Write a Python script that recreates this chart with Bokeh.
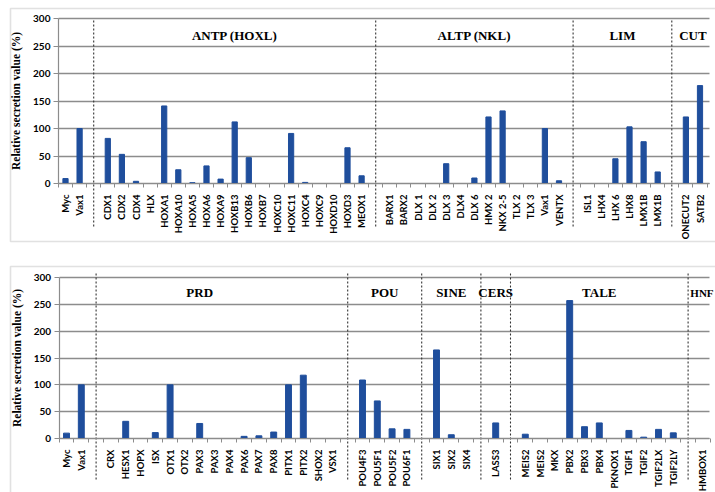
import math
from bokeh.plotting import figure
from bokeh.models import FixedTicker, BoxAnnotation, ColumnDataSource, Range1d
from bokeh.layouts import column
from bokeh.embed import file_html
from bokeh.resources import INLINE
from bokeh.core.properties import value

# ---------------- data ----------------
y_ticks = [0, 50, 100, 150, 200, 250, 300]
y_title = "Relative secretion value (%)"

# top panel
ctrl_genes = ["Myc", "Vax1"]
ctrl_top_vals = [9, 100]
antp_genes = ["CDX1", "CDX2", "CDX4", "HLX", "HOXA1", "HOXA10", "HOXA5", "HOXA6", "HOXA9",
              "HOXB13", "HOXB6", "HOXB7", "HOXC10", "HOXC11", "HOXC4", "HOXC9", "HOXD10",
              "HOXD3", "MEOX1"]
antp_vals = [82, 53, 4, 0, 141, 25, 1.5, 32, 8, 112, 47, 0, 0, 91, 2, 0, 0, 65, 14]
altp_genes = ["BARX1", "BARX2", "DLX 1", "DLX 2", "DLX 3", "DLX4", "DLX 6", "HMX 2", "NKX 2-5",
              "TLX 2", "TLX 3", "Vax1", "VENTX"]
altp_vals = [0, 0, 0, 0, 36, 0, 10, 121, 132, 0, 0, 100, 5]
lim_genes = ["ISL1", "LHX4", "LHX 6", "LHX8", "LMX1B", "LMX1B"]
lim_vals = [0, 0, 45, 103, 76, 21]
cut_genes = ["ONECUT2", "SATB2"]
cut_vals = [121, 178]

# bottom panel
ctrl_bot_vals = [10, 100]
prd_genes = ["CRX", "HESX1", "HOPX", "ISX", "OTX1", "OTX2", "PAX3", "PAX3", "PAX4", "PAX6",
             "PAX7", "PAX8", "PITX1", "PITX2", "SHOX2", "VSX1"]
prd_vals = [0, 32, 0, 11, 100, 0, 28, 0, 0, 4, 5, 12, 100, 118, 0, 0]
pou_genes = ["POU4F3", "POU5F1", "POU5F2", "POU6F1"]
pou_vals = [109, 70, 18, 17]
sine_genes = ["SIX1", "SIX2", "SIX4"]
sine_vals = [165, 7, 0]
cers_genes = ["LASS3"]
cers_vals = [29]
tale_genes = ["MEIS2", "MEIS2", "MKX", "PBX2", "PBX3", "PBX4", "PKNOX1", "TGIF1", "TGIF2",
              "TGIF2LX", "TGIF2LY"]
tale_vals = [8, 0, 0, 257, 22, 29, 0, 15, 2.5, 17, 10.5]
hnf_genes = ["HMBOX1"]
hnf_vals = [0]

top_groups = [(None, ctrl_genes, ctrl_top_vals), ("ANTP (HOXL)", antp_genes, antp_vals),
              ("ALTP (NKL)", altp_genes, altp_vals), ("LIM", lim_genes, lim_vals),
              ("CUT", cut_genes, cut_vals)]
bot_groups = [(None, ctrl_genes, ctrl_bot_vals), ("PRD", prd_genes, prd_vals),
              ("POU", pou_genes, pou_vals), ("SINE", sine_genes, sine_vals),
              ("CERS", cers_genes, cers_vals), ("TALE", tale_genes, tale_vals),
              ("HNF", hnf_genes, hnf_vals)]

# ---------------- styling / layout ----------------
W = 715
BAR = "#1f4e9c"
GRID = "#8c8c8c"
label_shift = {"PRD": -1.5}
edge_heads = {"HNF": "11px"}   # group title at the clipped right edge: left-aligned, smaller


def arrange(groups):
    xs, names, vals, seps, heads = [], [], [], [], []
    pos = 0
    for gi, (title, genes, v) in enumerate(groups):
        if gi > 0:
            seps.append(pos)
            pos += 1
        start = pos
        for g, val in zip(genes, v):
            xs.append(pos)
            names.append(g)
            vals.append(val)
            pos += 1
        if title:
            if title in edge_heads:
                heads.append((title, start - 0.85, "left", edge_heads[title]))
            else:
                heads.append((title, (start + pos - 1) / 2 + label_shift.get(title, 0),
                              "center", "13px"))
    return xs, names, vals, seps, heads, pos


def panel(groups, H, cy300, cy0, x0cx, step, right_cx, box_top, box_bot, sep_top, sep_bot,
          head_cy, bar_w):
    xs, names, vals, seps, heads, n = arrange(groups)
    sc = (cy0 - cy300) / 300.0

    def dy(cy):
        return (cy0 - cy) / sc

    def dx(cx):
        return (cx - x0cx) / step

    right = dx(right_cx)
    p = figure(width=W, height=H, x_range=Range1d(dx(0), dx(W)), y_range=Range1d(dy(H), dy(0)),
               output_backend="svg", toolbar_location=None, min_border=0)
    p.min_border_left = p.min_border_right = p.min_border_top = p.min_border_bottom = 0
    p.outline_line_color = None
    p.background_fill_color = "white"
    p.border_fill_color = "white"

    # outer box
    p.add_layout(BoxAnnotation(left=dx(10), right=dx(W) + 20, top=dy(box_top), bottom=dy(box_bot),
                               fill_color=None, fill_alpha=0, line_color="#9a9a9a", line_width=1.6))

    yt = FixedTicker(ticks=y_ticks, minor_ticks=[])
    ya = p.yaxis[0]
    ya.ticker = yt
    ya.fixed_location = -0.5
    ya.bounds = (0, 300)
    ya.axis_line_color = GRID
    ya.axis_line_width = 1.2
    ya.major_tick_line_color = GRID
    ya.major_tick_out = 5
    ya.major_tick_in = 0
    ya.minor_tick_line_color = None
    ya.major_label_standoff = 3
    ya.major_label_text_font = "Lato"
    ya.major_label_text_font_style = "bold"
    ya.major_label_text_font_size = "10px"
    ya.major_label_text_color = "black"
    ya.axis_label = y_title
    ya.axis_label_text_font = "Liberation Serif"
    ya.axis_label_text_font_style = "bold"
    ya.axis_label_text_font_size = "11.5px"
    ya.axis_label_text_color = "black"
    ya.axis_label_standoff = 8

    xa = p.xaxis[0]
    xa.ticker = FixedTicker(ticks=xs, minor_ticks=[k - 0.5 for k in range(0, n + 1)])
    xa.major_label_overrides = {x: nm for x, nm in zip(xs, names)}
    xa.fixed_location = 0
    xa.bounds = (-0.5, right)
    xa.axis_line_color = GRID
    xa.axis_line_width = 1.2
    xa.major_tick_line_color = None
    xa.major_tick_out = 0
    xa.major_tick_in = 0
    xa.minor_tick_line_color = GRID
    xa.minor_tick_out = 4
    xa.minor_tick_in = 0
    xa.major_label_orientation = math.pi / 2
    xa.major_label_standoff = 7
    xa.major_label_text_font = "Lato"
    xa.major_label_text_font_style = "bold"
    xa.major_label_text_font_size = "9.5px"
    xa.major_label_text_color = "black"

    p.xgrid.visible = False
    p.ygrid.ticker = yt
    p.ygrid.grid_line_color = GRID
    p.ygrid.grid_line_width = 1.3
    try:
        p.ygrid.cross_bounds = (-0.5, right)
    except Exception:
        pass

    src = ColumnDataSource(dict(x=xs, top=vals))
    p.vbar(x="x", top="top", width=bar_w, bottom=0, source=src, color=BAR)

    p.segment(x0=seps, y0=[dy(sep_top)] * len(seps), x1=seps, y1=[dy(sep_bot)] * len(seps),
              line_color="#333333", line_width=1.1, line_dash="2 2")

    hsrc = ColumnDataSource(dict(x=[h[1] for h in heads], y=[dy(head_cy)] * len(heads),
                                 text=[h[0] for h in heads], align=[h[2] for h in heads],
                                 size=[h[3] for h in heads]))
    p.text(x="x", y="y", text="text", source=hsrc,
           text_font=value("Liberation Serif"), text_font_style="bold", text_font_size="size",
           text_align="align", text_baseline="middle", text_color="black")
    return p


p1 = panel(top_groups, H=254, cy300=18, cy0=183, x0cx=65, step=14.1, right_cx=709,
           box_top=8, box_bot=241, sep_top=20, sep_bot=227, head_cy=35, bar_w=0.37)
p2 = panel(bot_groups, H=238, cy300=23, cy0=184, x0cx=66, step=14.8, right_cx=709,
           box_top=12, box_bot=400, sep_top=19, sep_bot=226, head_cy=38, bar_w=0.4)

layout = column(p1, p2, spacing=0)
open("out.html", "w").write(file_html(layout, INLINE))
